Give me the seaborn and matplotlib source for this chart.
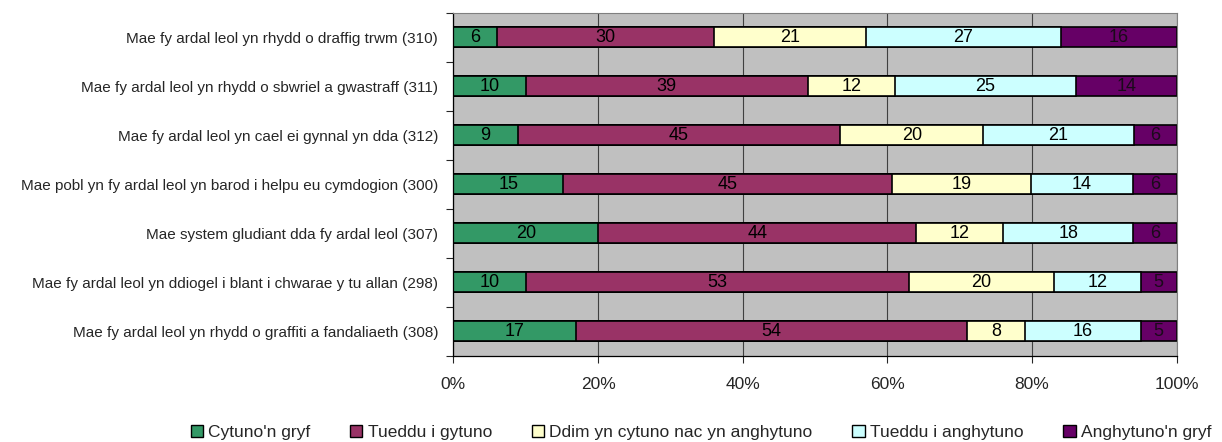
import numpy as np
import pandas as pd
import matplotlib
matplotlib.use("Agg")
import matplotlib.pyplot as plt
from matplotlib.patches import Patch
import seaborn as sns

# Survey statements (top to bottom) and responses per category
statements = [
    "Mae fy ardal leol yn rhydd o draffig trwm (310)",
    "Mae fy ardal leol yn rhydd o sbwriel a gwastraff (311)",
    "Mae fy ardal leol yn cael ei gynnal yn dda (312)",
    "Mae pobl yn fy ardal leol yn barod i helpu eu cymdogion (300)",
    "Mae system gludiant dda fy ardal leol (307)",
    "Mae fy ardal leol yn ddiogel i blant i chwarae y tu allan (298)",
    "Mae fy ardal leol yn rhydd o graffiti a fandaliaeth (308)",
]
responses = ["Cytuno'n gryf", "Tueddu i gytuno", "Ddim yn cytuno nac yn anghytuno",
             "Tueddu i anghytuno", "Anghytuno'n gryf"]
cytuno_gryf = [6, 10, 9, 15, 20, 10, 17]
tueddu_gytuno = [30, 39, 45, 45, 44, 53, 54]
ddim = [21, 12, 20, 19, 12, 20, 8]
tueddu_anghytuno = [27, 25, 21, 14, 18, 12, 16]
anghytuno_gryf = [16, 14, 6, 6, 6, 5, 5]
colors = ["#339966", "#993366", "#FFFFCC", "#CCFFFF", "#660066"]
text_colors = ["black", "black", "black", "black", "#1a0a1a"]

vals = np.array([cytuno_gryf, tueddu_gytuno, ddim, tueddu_anghytuno, anghytuno_gryf], dtype=float)
pct = vals / vals.sum(axis=0) * 100
cum = np.cumsum(pct, axis=0)

sns.set_style("white")
plt.rcParams["font.family"] = ["Liberation Sans", "DejaVu Sans"]

fig = plt.figure(figsize=(12.22, 4.42), dpi=100)
ax = fig.add_axes([0.371, 0.195, 0.592, 0.776])
ax.set_facecolor("#C0C0C0")

# draw cumulative bars from the full length down so each segment shows
for k in range(len(responses) - 1, -1, -1):
    df = pd.DataFrame({"statement": statements, "value": cum[k]})
    sns.barplot(data=df, x="value", y="statement", orient="h", color=colors[k],
                saturation=1, width=0.41, edgecolor="black", linewidth=1.2, ax=ax)

for k in range(len(responses)):
    for i in range(len(statements)):
        start = cum[k][i] - pct[k][i]
        ax.text(start + pct[k][i] / 2, i, f"{int(vals[k][i])}", ha="center", va="center",
                fontsize=13, color=text_colors[k], zorder=10)

ax.set_xlim(0, 100)
ax.set_ylim(len(statements) - 0.5, -0.5)
ax.set_xticks([0, 20, 40, 60, 80, 100])
ax.set_xticklabels(["0%", "20%", "40%", "60%", "80%", "100%"], fontsize=12.5)
ax.set_yticks(np.arange(-0.5, len(statements), 1), minor=True)
ax.tick_params(axis="y", which="major", length=0, labelsize=11, pad=11)
ax.tick_params(axis="y", which="minor", length=5, width=0.8, direction="out", left=True)
ax.tick_params(axis="x", length=5, width=0.8, direction="out", bottom=True, pad=10)
ax.xaxis.grid(True, color="#404040", linewidth=0.8)
ax.set_axisbelow(True)
ax.set_xlabel("")
ax.set_ylabel("")
for side in ["top", "right"]:
    ax.spines[side].set_color("#808080")
for side in ["left", "bottom"]:
    ax.spines[side].set_color("black")
    ax.spines[side].set_linewidth(0.9)

handles = [Patch(facecolor=c, edgecolor="black", linewidth=1) for c in colors]
fig.legend(handles, responses, loc="center right", bbox_to_anchor=(1.004, 0.022),
           ncol=5, frameon=False, fontsize=12.5, handlelength=0.7, handleheight=0.7,
           handletextpad=0.3, columnspacing=2.3)

fig.savefig("out.png", dpi=100)
